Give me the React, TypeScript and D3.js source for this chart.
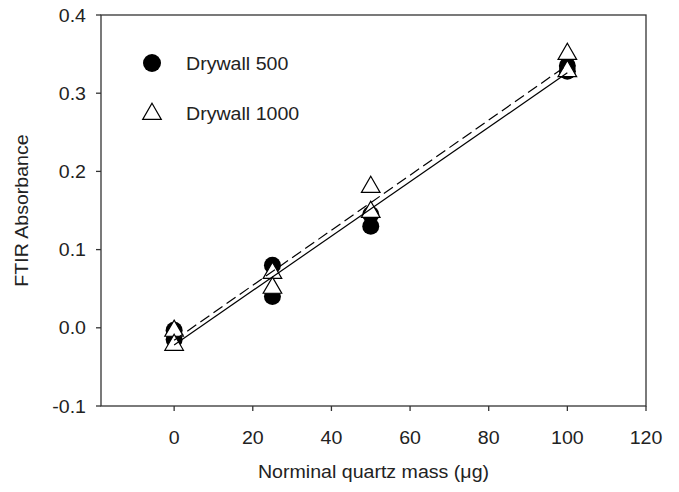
import React from "react";
import * as d3 from "d3";

const massDry500 = [0, 0, 25, 25, 50, 50, 100, 100];
const absDry500 = [-0.003, -0.015, 0.08, 0.04, 0.13, 0.145, 0.335, 0.328];
const massDry1000 = [0, 0, 25, 25, 50, 50, 100, 100];
const absDry1000 = [-0.002, -0.02, 0.072, 0.053, 0.182, 0.15, 0.352, 0.33];
// fitted lines: [intercept, slope]
const fitDry500 = [-0.022, 0.00348];
const fitDry1000 = [-0.016, 0.00352];
const fitRange = [0, 100];
const xTicks = [0, 20, 40, 60, 80, 100, 120];
const yTicks = [-0.1, 0.0, 0.1, 0.2, 0.3, 0.4];
const seriesNames = ["Drywall 500", "Drywall 1000"];

const W = 679, H = 492;
const M = { left: 101, right: 646, top: 15, bottom: 406 };
const font = "'Liberation Sans', Arial, sans-serif";
const axisColor = "#333";
const FS = 17.5;
const SX = 1.12;

function T(props: { x: number; y: number; anchor?: string; rotate?: number; children: React.ReactNode }) {
  const { x, y, anchor = "start", rotate = 0, children } = props;
  return (
    <text
      transform={`translate(${x},${y}) rotate(${rotate}) scale(${SX},1)`}
      textAnchor={anchor}
      fontFamily={font}
      fontSize={FS}
      fill="#222"
    >
      {children}
    </text>
  );
}

export default function App() {
  const x = d3.scaleLinear().domain([-18.6, 120]).range([M.left, M.right]);
  const y = d3.scaleLinear().domain([-0.1, 0.4]).range([M.bottom, M.top]);
  const tri = d3.symbol().type(d3.symbolTriangle).size(150);
  const fitPath = (fit: number[]) =>
    d3.line<number>().x((d) => x(d)).y((d) => y(fit[0] + fit[1] * d))(fitRange) || "";
  return (
    <svg width={W} height={H} style={{ position: "absolute", left: 0, top: 0, background: "#fff" }}>
      <rect x={M.left} y={M.top} width={M.right - M.left} height={M.bottom - M.top} fill="none" stroke={axisColor} strokeWidth={1.3} />
      {yTicks.map((t) => (
        <g key={"y" + t}>
          <line x1={M.left - 5} x2={M.left} y1={y(t)} y2={y(t)} stroke={axisColor} strokeWidth={1.3} />
          <T x={M.left - 15} y={y(t) + 6.5} anchor="end">{t.toFixed(1)}</T>
        </g>
      ))}
      {xTicks.map((t) => (
        <g key={"x" + t}>
          <line x1={x(t)} x2={x(t)} y1={M.bottom} y2={M.bottom + 5} stroke={axisColor} strokeWidth={1.3} />
          <T x={x(t)} y={M.bottom + 38} anchor="middle">{t}</T>
        </g>
      ))}
      <T x={(M.left + M.right) / 2} y={478} anchor="middle">Norminal quartz mass (μg)</T>
      <T x={28} y={(M.top + M.bottom) / 2} anchor="middle" rotate={-90}>FTIR Absorbance</T>
      {massDry500.map((m, i) => (
        <circle key={"c" + i} cx={x(m)} cy={y(absDry500[i])} r={8.5} fill="#000" />
      ))}
      {massDry1000.map((m, i) => (
        <path key={"t" + i} d={tri() || ""} transform={`translate(${x(m)},${y(absDry1000[i]) + 1.5})`} fill="#fff" stroke="#000" strokeWidth={1.2} />
      ))}
      <path d={fitPath(fitDry500)} fill="none" stroke="#000" strokeWidth={1.2} />
      <path d={fitPath(fitDry1000)} fill="none" stroke="#000" strokeWidth={1.2} strokeDasharray="11,5" />
      <circle cx={152} cy={63} r={9} fill="#000" />
      <T x={186} y={69.5}>{seriesNames[0]}</T>
      <path d={tri() || ""} transform={`translate(152,${114})`} fill="#fff" stroke="#000" strokeWidth={1.2} />
      <T x={186} y={119.5}>{seriesNames[1]}</T>
    </svg>
  );
}
